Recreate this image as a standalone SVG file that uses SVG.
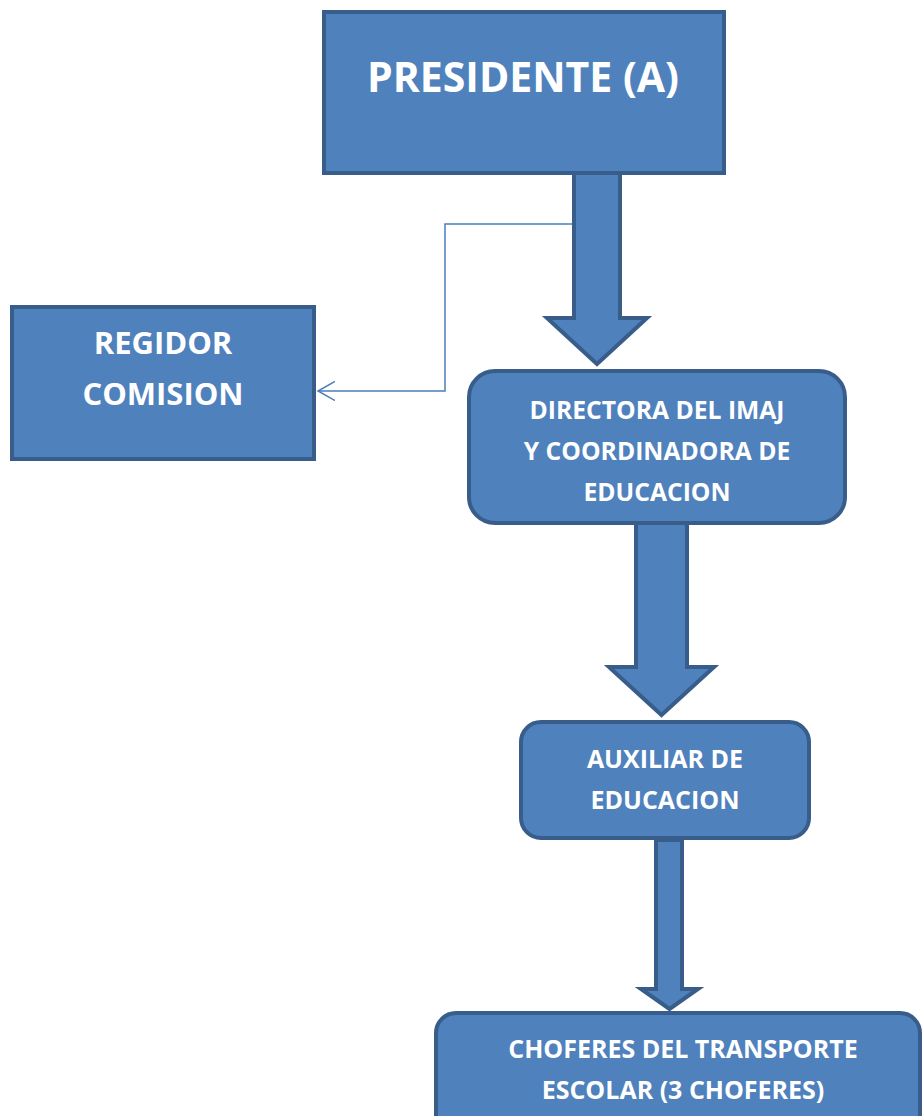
<svg xmlns="http://www.w3.org/2000/svg" width="922" height="1116" viewBox="0 0 922 1116">
<style>
.box{fill:#4f81bd;stroke:#385d8a;stroke-width:4}
.arrow{fill:#4f81bd;stroke:#385d8a;stroke-width:4;stroke-linejoin:miter}
.t{font-family:"Open Sans","DejaVu Sans",sans-serif;font-weight:bold;fill:#ffffff;text-anchor:middle}
.thin{fill:none;stroke:#4a7ebb;stroke-width:1.5}
</style>
<defs>
<marker id="open" markerUnits="userSpaceOnUse" markerWidth="20" markerHeight="22" refX="17" refY="10" orient="auto" viewBox="0 0 20 22">
<path d="M0,0.5 L17,10 L0,19.5" fill="none" stroke="#4a7ebb" stroke-width="1.5"/>
</marker>
</defs>
<g id="connectors">
<polyline class="thin" points="576,224 445,224 445,391 318,391" marker-end="url(#open)"/>
<polygon class="arrow" points="574,173 620,173 620,318 647,318 597,364 547,318 574,318"/>
<polygon class="arrow" points="636,523 687,523 687,667 714,667 661.5,715 609,667 636,667"/>
<polygon class="arrow" points="656,840 682,840 682,989 698,989 669.5,1009 641,989 656,989"/>
</g>
<g id="presidente">
<rect class="box" x="324" y="12" width="400" height="161"/>
<text class="t" x="523" y="92" font-size="41">PRESIDENTE (A)</text>
</g>
<g id="regidor">
<rect class="box" x="12" y="307" width="302" height="152"/>
<text class="t" x="163" y="354" font-size="31">REGIDOR</text>
<text class="t" x="163" y="405" font-size="31">COMISION</text>
</g>
<g id="directora">
<rect class="box" x="469" y="371" width="376" height="152" rx="26" ry="26"/>
<text class="t" x="657" y="419" font-size="24.7">DIRECTORA DEL IMAJ</text>
<text class="t" x="657" y="460" font-size="24.7">Y COORDINADORA DE</text>
<text class="t" x="657" y="501" font-size="24.7">EDUCACION</text>
</g>
<g id="auxiliar">
<rect class="box" x="521" y="722" width="288" height="116" rx="20" ry="20"/>
<text class="t" x="665" y="768" font-size="25">AUXILIAR DE</text>
<text class="t" x="665" y="809" font-size="25">EDUCACION</text>
</g>
<g id="choferes">
<rect class="box" x="436" y="1013" width="484" height="130" rx="20" ry="20"/>
<text class="t" x="683" y="1058" font-size="25">CHOFERES DEL TRANSPORTE</text>
<text class="t" x="683" y="1099" font-size="25">ESCOLAR (3 CHOFERES)</text>
</g>
</svg>
